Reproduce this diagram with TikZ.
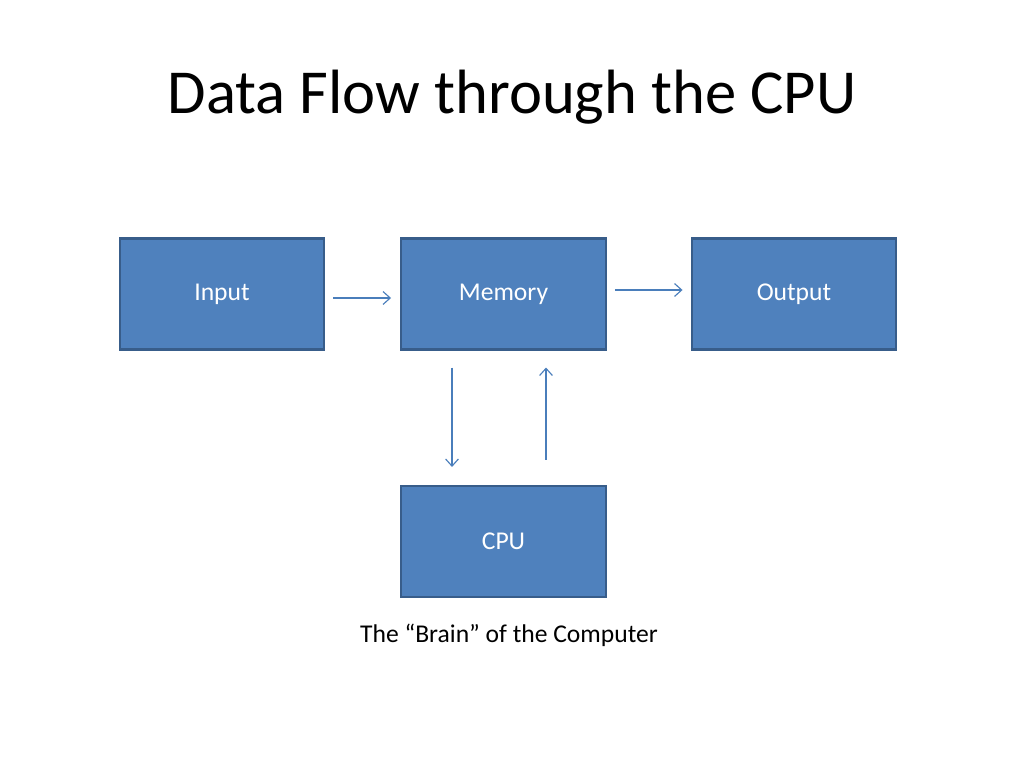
\documentclass[tikz,border=0pt]{standalone}
\usepackage{fontspec}
\setmainfont{Carlito}
\usetikzlibrary{calc,arrows.meta}
\definecolor{boxfill}{HTML}{4F81BD}
\definecolor{boxline}{HTML}{385D8A}
\definecolor{flowline}{HTML}{4A7EBB}
\tikzset{
  unit/.style={draw=boxline, line width=1.5pt, fill=boxfill, text=white,
    minimum width=144pt, minimum height=78pt, font=\fontsize{18}{21}\selectfont},
  flow/.style={draw=flowline, line width=0.8pt, -{Straight Barb[length=5pt,width=9pt]}}
}

\begin{document}
\begin{tikzpicture}[x=0.703125pt,y=-0.703125pt]
    \useasboundingbox (0,0) rectangle (1024,768); % slide area

    \node[font=\fontsize{44}{52}\selectfont] (title) at (512,97) {Data Flow through the CPU};

    \node[unit] (in) at (222,294) {Input};
    \node[unit] (mem) at (503.5,294) {Memory};
    \node[unit] (out) at (794,294) {Output};
    \node[unit] (cpu) at (503.5,541.5) {CPU};
    \node[font=\fontsize{18}{21}\selectfont] (brain) at (509,635) {The “Brain” of the Computer};

    \draw[flow] ($(in.east)+(8,4)$) -- ($(mem.west)+(-9,4)$);
    \draw[flow] ($(mem.east)+(8,-4)$) -- ($(out.west)+(-8,-4)$);
    \draw[flow] ($(mem.south)+(-51.5,17)$) -- ($(cpu.north)+(-51.5,-18)$);
    \draw[flow] ($(cpu.north)+(42.5,-25)$) -- ($(mem.south)+(42.5,17)$);
  \end{tikzpicture}
\end{document}
